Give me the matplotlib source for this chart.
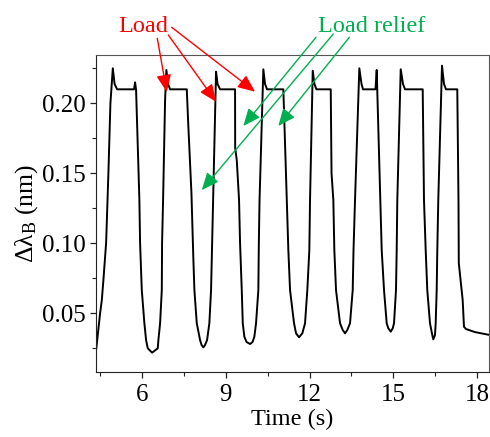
import matplotlib

matplotlib.use("Agg")

import matplotlib.pyplot as plt

plt.rcParams["font.family"] = ["Liberation Serif", "DejaVu Serif"]
plt.rcParams["mathtext.fontset"] = "custom"
plt.rcParams["mathtext.rm"] = "Liberation Serif"
plt.rcParams["mathtext.it"] = "Liberation Serif:italic"
plt.rcParams["mathtext.bf"] = "Liberation Serif:bold"

# Bragg wavelength shift during repeated load / load-relief cycles
time_s = [
    4.36, 4.496, 4.557, 4.614, 4.711, 4.793, 4.865, 4.951, 5.015, 5.105,
    5.713, 5.749, 5.785, 5.903, 5.928, 5.989, 6.082, 6.143, 6.204, 6.358,
    6.562, 6.584, 6.645, 6.706, 6.716, 6.752, 6.824, 6.870, 6.931, 7.003,
    7.601, 7.658, 7.768, 7.838, 7.874, 7.959, 8.077, 8.131, 8.196, 8.257,
    8.328, 8.410, 8.471, 8.496, 8.554, 8.615, 8.650, 8.704, 8.794,
    9.331, 9.335, 9.392, 9.474, 9.510, 9.571, 9.607, 9.664, 9.743, 9.868,
    9.957, 10.022, 10.083, 10.165, 10.183, 10.208, 10.344, 10.405, 10.477,
    11.061, 11.182, 11.240, 11.301, 11.444, 11.516, 11.623, 11.741, 11.838,
    11.920, 11.992, 12.017, 12.114, 12.175, 12.246,
    12.759, 12.787, 12.852, 12.888, 12.948, 13.092, 13.188, 13.271, 13.353,
    13.450, 13.546, 13.575, 13.629, 13.783, 13.862, 13.915,
    14.363, 14.406, 14.435, 14.535, 14.585, 14.668, 14.764, 14.822, 14.908,
    14.980, 15.026, 15.097, 15.122, 15.144, 15.266, 15.348, 15.420,
    16.054, 16.100, 16.161, 16.218, 16.315, 16.397, 16.433, 16.494, 16.519,
    16.555, 16.577, 16.612, 16.745, 16.817, 16.888,
    17.293, 17.336, 17.347, 17.486, 17.533, 17.605, 17.927, 18.464,
]
shift_nm = [
    0.025, 0.0502, 0.0595, 0.0738, 0.1002, 0.1502, 0.2000, 0.2250, 0.2138, 0.2100,
    0.2100, 0.2150, 0.2095, 0.1309, 0.1002, 0.0666, 0.0429, 0.0309, 0.0250, 0.0219,
    0.0250, 0.0309, 0.0429, 0.0666, 0.1002, 0.1309, 0.2024, 0.2238, 0.2138, 0.2100,
    0.2100, 0.1833, 0.1359, 0.0881, 0.0666, 0.0429, 0.0309, 0.0274, 0.0257, 0.0274,
    0.0309, 0.0429, 0.0666, 0.0881, 0.1359, 0.1881, 0.2226, 0.2138, 0.2100,
    0.2100, 0.1681, 0.1595, 0.1309, 0.1002, 0.0666, 0.0429, 0.0333, 0.0295, 0.0281,
    0.0295, 0.0333, 0.0429, 0.0666, 0.1002, 0.1309, 0.2243, 0.2138, 0.2100,
    0.2100, 0.1309, 0.0952, 0.0666, 0.0429, 0.0357, 0.0329, 0.0357, 0.0429,
    0.0666, 0.0952, 0.1309, 0.2233, 0.2138, 0.2100,
    0.2100, 0.1502, 0.1309, 0.0952, 0.0666, 0.0429, 0.0381, 0.0357, 0.0381,
    0.0429, 0.0666, 0.0952, 0.1309, 0.2250, 0.2138, 0.2100,
    0.2100, 0.2238, 0.2024, 0.1309, 0.0952, 0.0666, 0.0429, 0.0393, 0.0369,
    0.0393, 0.0429, 0.0666, 0.0952, 0.1309, 0.2243, 0.2138, 0.2100,
    0.2100, 0.1309, 0.0952, 0.0666, 0.0429, 0.0345, 0.0314, 0.0345, 0.0429,
    0.0666, 0.0952, 0.1309, 0.2269, 0.2138, 0.2100,
    0.2100, 0.1309, 0.0859, 0.0595, 0.0404, 0.0388, 0.0366, 0.0345,
]

# arrow tips (data) and tails (figure fraction)
load_tip_t = [6.885, 8.650, 10.047]
load_tip_v = [0.2081, 0.2011, 0.2083]
load_tail = [(0.3210, 0.9124), (0.3435, 0.9199), (0.3504, 0.9375)]
relief_tip_t = [9.628, 8.138, 10.88]
relief_tip_v = [0.1838, 0.1380, 0.1838]
relief_tail = [(0.6449, 0.9146), (0.6802, 0.9222), (0.7129, 0.9146)]

x_ticks = [6, 9, 12, 15, 18]
y_ticks = [0.05, 0.10, 0.15, 0.20]

RED = "#ff0000"
GREEN = "#00b050"
FS = 18

fig = plt.figure(figsize=(4.9, 4.37), dpi=100)
ax = fig.add_axes([0.196, 0.1494, 0.802, 0.7247])

ax.plot(time_s, shift_nm, color="black", lw=1.4, zorder=2)

ax.set_xlim(4.35, 18.43)
ax.set_ylim(0.0083, 0.2345)
ax.set_xticks(x_ticks)
ax.set_xticks([4.5, 7.5, 10.5, 13.5, 16.5], minor=True)
ax.set_yticks(y_ticks)
ax.set_yticks([0.025, 0.075, 0.125, 0.175, 0.225], minor=True)
ax.set_yticklabels([f"{v:.2f}" for v in y_ticks])

for side in ("top", "right"):
    ax.spines[side].set_color("#555555")
for side in ("left", "bottom"):
    ax.spines[side].set_color("#222222")
ax.tick_params(which="major", direction="out", length=4, width=0.9,
               labelsize=FS, color="#222222")
ax.tick_params(axis="x", which="major", pad=5)
ax.tick_params(which="minor", direction="out", length=3, width=0.8,
               color="#222222")

ax.set_xlabel("Time (s)", fontsize=FS - 0.5, labelpad=2)
ax.set_ylabel(r"$\mathrm{\Delta\lambda_B}$ (nm)", fontsize=FS + 0.5, labelpad=1)

fig.text(0.2918, 0.9275, "Load", color=RED, fontsize=FS - 0.5,
         ha="center", va="baseline")
fig.text(0.759, 0.9275, "Load relief", color=GREEN, fontsize=FS - 0.5,
         ha="center", va="baseline")

arrow_style = "-|>,head_length=0.7,head_width=0.3"
for t, v, tail in zip(load_tip_t, load_tip_v, load_tail):
    ax.annotate("", xy=(t, v), xycoords="data", xytext=tail,
                textcoords="figure fraction", annotation_clip=False,
                arrowprops=dict(arrowstyle=arrow_style, color=RED, lw=1.0,
                                mutation_scale=15, shrinkA=0, shrinkB=0),
                zorder=3)
for t, v, tail in zip(relief_tip_t, relief_tip_v, relief_tail):
    ax.annotate("", xy=(t, v), xycoords="data", xytext=tail,
                textcoords="figure fraction", annotation_clip=False,
                arrowprops=dict(arrowstyle=arrow_style, color=GREEN, lw=1.0,
                                mutation_scale=15, shrinkA=0, shrinkB=0),
                zorder=3)

fig.savefig("out.png", dpi=100)
